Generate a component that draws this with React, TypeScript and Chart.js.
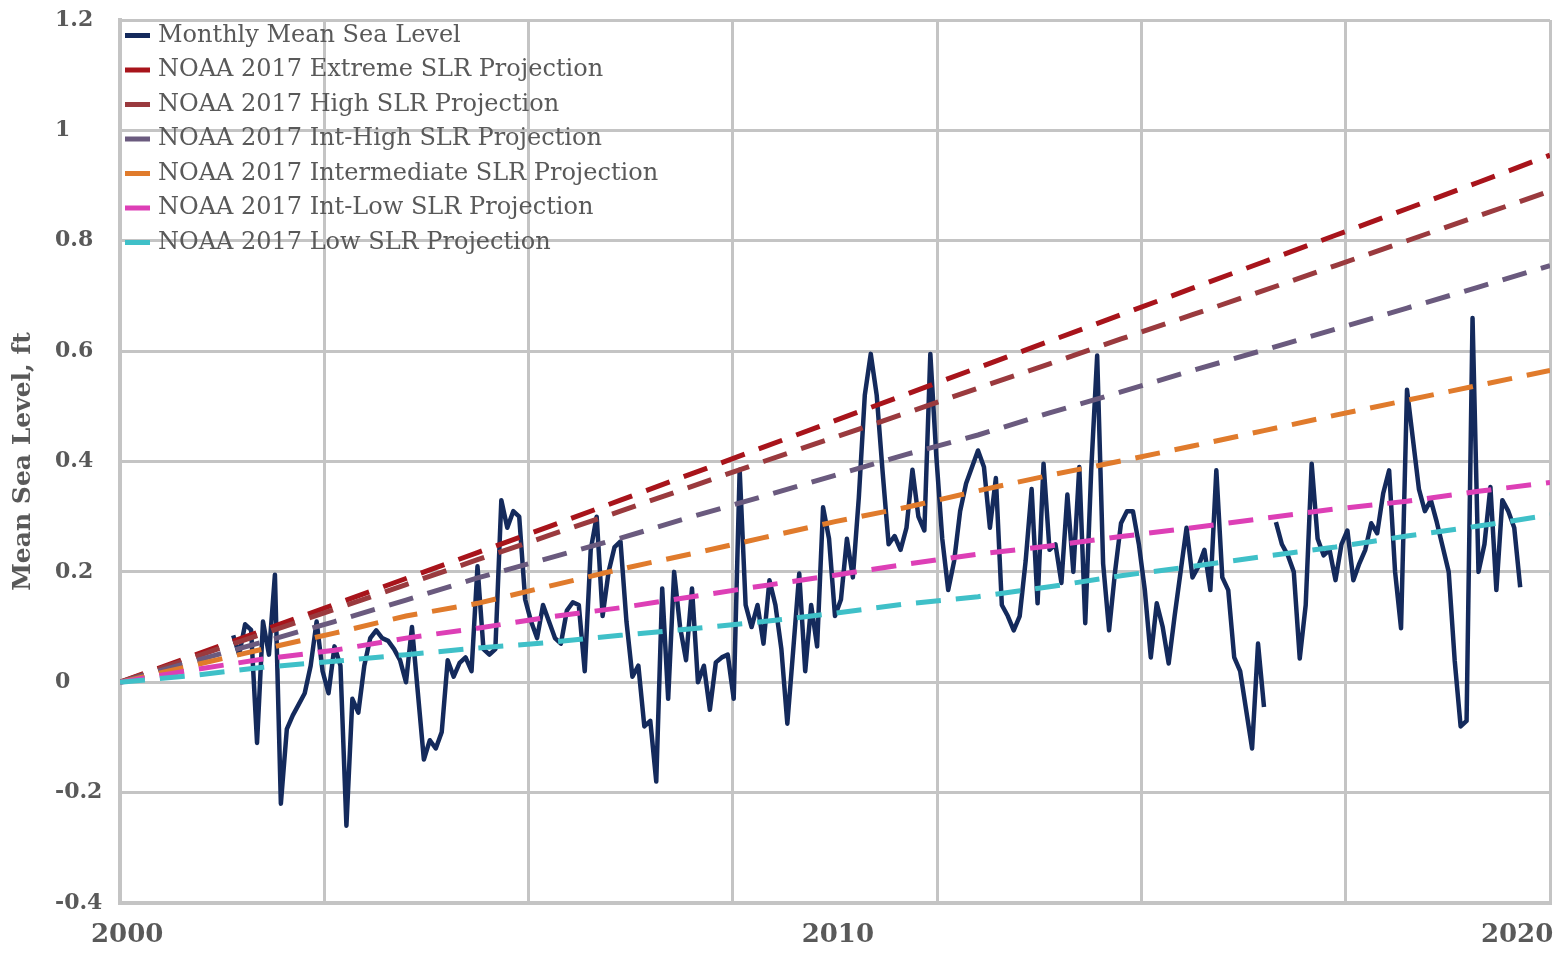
import React, { useEffect, useRef } from 'react';
import { Chart, registerables } from 'chart.js';

Chart.register(...registerables);

// ---------- data ----------
const PROJ_YEARS = [2000, 2001, 2002, 2003, 2004, 2005, 2006, 2007, 2008, 2009, 2010, 2011, 2012, 2013, 2014, 2015, 2016, 2017, 2018, 2019, 2020];
const EXTREME = [0, 0.047, 0.094, 0.141, 0.188, 0.235, 0.282, 0.33, 0.378, 0.426, 0.474, 0.522, 0.57, 0.618, 0.666, 0.714, 0.762, 0.81, 0.858, 0.906, 0.955];
const HIGH = [0, 0.044, 0.088, 0.132, 0.177, 0.222, 0.266, 0.31, 0.355, 0.4, 0.444, 0.488, 0.533, 0.577, 0.622, 0.666, 0.71, 0.755, 0.8, 0.845, 0.89];
const INT_HIGH = [0, 0.037, 0.073, 0.11, 0.149, 0.189, 0.225, 0.261, 0.3, 0.337, 0.375, 0.413, 0.448, 0.488, 0.526, 0.565, 0.602, 0.64, 0.678, 0.716, 0.755];
const INTERMEDIATE = [0, 0.03, 0.06, 0.089, 0.12, 0.143, 0.174, 0.205, 0.233, 0.262, 0.291, 0.317, 0.347, 0.375, 0.401, 0.428, 0.456, 0.484, 0.511, 0.538, 0.565];
const INT_LOW = [0, 0.022, 0.042, 0.058, 0.08, 0.098, 0.118, 0.135, 0.155, 0.175, 0.194, 0.214, 0.232, 0.247, 0.264, 0.28, 0.297, 0.314, 0.328, 0.346, 0.362];
const LOW = [0, 0.012, 0.027, 0.038, 0.05, 0.062, 0.072, 0.085, 0.097, 0.11, 0.125, 0.142, 0.155, 0.173, 0.193, 0.21, 0.228, 0.245, 0.265, 0.283, 0.303];

// Monthly mean sea level, starting August 2001 (one value per month, null = missing)
const MSL_FIRST_YEAR = 2001;
const MSL_FIRST_MONTH = 7; // 0-based month index (August)
const MSL = [
  0.085, 0.05, 0.105, 0.095, -0.11,
  0.11, 0.05, 0.195, -0.22, -0.085, -0.06, -0.04, -0.02, 0.03, 0.11, 0.02, -0.02,
  0.065, 0.03, -0.26, -0.03, -0.055, 0.03, 0.08, 0.094, 0.08, 0.075, 0.06, 0.04,
  0.0, 0.1, -0.02, -0.14, -0.105, -0.12, -0.09, 0.04, 0.01, 0.035, 0.045, 0.02,
  0.21, 0.06, 0.05, 0.06, 0.33, 0.28, 0.31, 0.3, 0.15, 0.11, 0.08, 0.14,
  0.11, 0.08, 0.07, 0.13, 0.145, 0.14, 0.02, 0.24, 0.3, 0.12, 0.2, 0.245,
  0.255, 0.11, 0.01, 0.03, -0.08, -0.07, -0.18, 0.17, -0.03, 0.2, 0.1, 0.04,
  0.17, 0.0, 0.03, -0.05, 0.036, 0.045, 0.05, -0.03, 0.385, 0.14, 0.1, 0.14,
  0.07, 0.185, 0.14, 0.06, -0.075, 0.06, 0.197, 0.02, 0.14, 0.065, 0.317, 0.26,
  0.12, 0.15, 0.26, 0.19, 0.335, 0.52, 0.595, 0.52, 0.38, 0.25, 0.265, 0.24,
  0.28, 0.385, 0.3, 0.275, 0.595, 0.41, 0.26, 0.167, 0.22, 0.31, 0.36, 0.39,
  0.42, 0.39, 0.28, 0.37, 0.14, 0.12, 0.094, 0.12, 0.22, 0.35, 0.143, 0.396,
  0.24, 0.25, 0.18, 0.34, 0.2, 0.39, 0.107, 0.384, 0.592, 0.215, 0.094, 0.2,
  0.288, 0.31, 0.31, 0.25, 0.167, 0.045, 0.143, 0.1, 0.034, 0.12, 0.2, 0.28,
  0.19, 0.21, 0.24, 0.167, 0.384, 0.19, 0.167, 0.045, 0.02, -0.05, -0.12, 0.07,
  -0.045, null, 0.29, 0.25, 0.23, 0.2, 0.043, 0.14, 0.396, 0.26, 0.23, 0.24,
  0.185, 0.25, 0.275, 0.185, 0.215, 0.24, 0.288, 0.27, 0.342, 0.384, 0.2, 0.098,
  0.53, 0.44, 0.35, 0.31, 0.33, 0.29, 0.245, 0.2, 0.04, -0.08, -0.07, 0.66,
  0.2, 0.25, 0.354, 0.167, 0.33, 0.31, 0.28, 0.172,
];

const SERIES_LABELS = [
  'Monthly Mean Sea Level',
  'NOAA 2017 Extreme SLR Projection',
  'NOAA 2017 High SLR Projection',
  'NOAA 2017 Int-High SLR Projection',
  'NOAA 2017 Intermediate SLR Projection',
  'NOAA 2017 Int-Low SLR Projection',
  'NOAA 2017 Low SLR Projection',
];

const X_LABELS = ['2000', '2010', '2020'];
const X_LABEL_AT = [2000.1, 2010.04, 2019.54];
const Y_TITLE = 'Mean Sea Level, ft';

// ---------- styles ----------
const COLORS = ['#142a5c', '#a8141b', '#9a3a3e', '#6a5a7e', '#e07b2c', '#dd3fb6', '#3fc0c8'];
const GRID = '#c4c4c4';
const TEXT = '#595959';
const FONT = "'DejaVu Serif', serif";
const X_MIN = 2000;
const X_MAX = 2020;
const X_GRID_INTERVALS = 7;

const insideLegend = {
  id: 'insideLegend',
  afterDraw(chart: any) {
    const { ctx, chartArea } = chart;
    ctx.save();
    ctx.font = `24px ${FONT}`;
    ctx.textBaseline = 'middle';
    ctx.textAlign = 'left';
    chart.data.datasets.forEach((ds: any, i: number) => {
      const y = chartArea.top + 15.5 + i * 34.5;
      ctx.fillStyle = ds.borderColor;
      ctx.fillRect(chartArea.left + 5, y - 2.5, 25, 5);
      ctx.fillStyle = TEXT;
      ctx.fillText(ds.label, chartArea.left + 38, y);
    });
    ctx.restore();
  },
};

export default function App() {
  const canvasRef = useRef<HTMLCanvasElement | null>(null);

  useEffect(() => {
    if (!canvasRef.current) return;
    const proj = [EXTREME, HIGH, INT_HIGH, INTERMEDIATE, INT_LOW, LOW];
    const mslStart = MSL_FIRST_YEAR + MSL_FIRST_MONTH / 12;

    const datasets: any[] = [
      {
        label: SERIES_LABELS[0],
        data: MSL.map((v, i) => ({ x: mslStart + i / 12, y: v })),
        xAxisID: 'x',
        yAxisID: 'y',
        borderColor: COLORS[0],
        backgroundColor: COLORS[0],
        borderWidth: 4.5,
        pointRadius: 0,
        borderJoinStyle: 'round',
        spanGaps: false,
        order: 7,
      },
      ...proj.map((arr, j) => ({
        label: SERIES_LABELS[j + 1],
        data: PROJ_YEARS.map((yr, i) => ({ x: yr, y: arr[i] })),
        xAxisID: 'x',
        yAxisID: 'y',
        borderColor: COLORS[j + 1],
        backgroundColor: COLORS[j + 1],
        borderWidth: 5,
        borderDash: [25, 15],
        borderCapStyle: 'butt',
        pointRadius: 0,
        order: 6 - j,
      })),
    ];

    const gridVals: number[] = [];
    for (let i = 0; i <= X_GRID_INTERVALS; i++) gridVals.push(X_MIN + (i * (X_MAX - X_MIN)) / X_GRID_INTERVALS);

    const chart = new Chart(canvasRef.current, {
      type: 'line',
      data: { datasets },
      plugins: [insideLegend],
      options: {
        animation: false,
        responsive: true,
        maintainAspectRatio: false,
        layout: { padding: { top: 12, right: 9, left: 0, bottom: 0 } },
        plugins: {
          legend: { display: false },
          tooltip: { enabled: false },
        },
        scales: {
          x: {
            type: 'linear',
            min: X_MIN,
            max: X_MAX,
            afterBuildTicks: (axis: any) => {
              const vals = [...gridVals, ...X_LABEL_AT].sort((a, b) => a - b);
              axis.ticks = vals.map((v) => ({ value: v }));
            },
            afterFit: (s: any) => {
              s.height = 47;
            },
            grid: {
              color: (ctx: any) =>
                ctx.tick && X_LABEL_AT.includes(ctx.tick.value) ? 'rgba(0,0,0,0)' : GRID,
              lineWidth: 3,
              drawTicks: false,
            },
            border: { color: GRID, width: 4 },
            ticks: {
              autoSkip: false,
              maxRotation: 0,
              padding: 9,
              color: TEXT,
              font: { family: FONT, size: 26, weight: 'bold', lineHeight: 1.8 },
              callback: (value: any) => {
                const i = X_LABEL_AT.indexOf(value);
                return i >= 0 ? X_LABELS[i] : '';
              },
            },
          },
          yTitle: {
            type: 'linear',
            position: 'left',
            weight: 10,
            display: true,
            min: 0,
            max: 1,
            grid: { display: false, drawTicks: false },
            border: { display: false },
            ticks: { display: false },
            title: {
              display: true,
              text: Y_TITLE,
              color: TEXT,
              font: { family: FONT, size: 25, weight: 'bold' },
              padding: { top: 0, bottom: 0 },
            },
            afterFit: (s: any) => {
              s.width = 47;
            },
          },
          y: {
            type: 'linear',
            position: 'left',
            weight: 0,
            min: -0.4,
            max: 1.2,
            afterFit: (s: any) => {
              s.width = 65;
            },
            grid: { color: GRID, lineWidth: 3, drawTicks: false },
            border: { color: GRID, width: 4 },
            ticks: {
              stepSize: 0.2,
              crossAlign: 'far',
              padding: 0,
              color: TEXT,
              font: { family: FONT, size: 22, weight: 'bold', lineHeight: 1 },
              callback: (v: any) => String(Math.round(Number(v) * 10) / 10),
            },
          },
        },
      } as any,
    });

    return () => chart.destroy();
  }, []);

  return (
    <div style={{ position: 'relative', width: 1551, height: 942 }}>
      <canvas ref={canvasRef} />
    </div>
  );
}
